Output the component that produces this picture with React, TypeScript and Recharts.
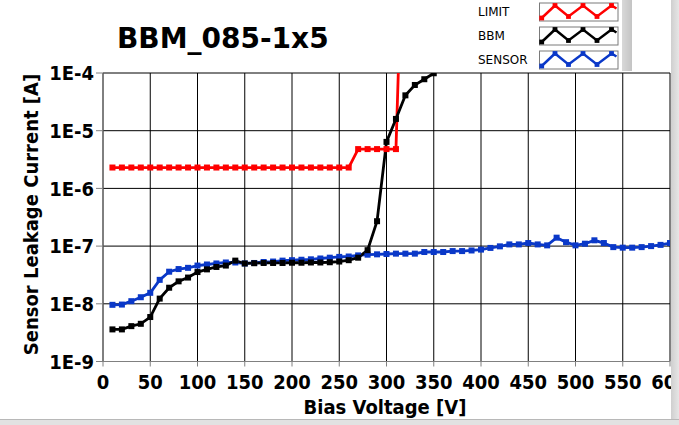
import { LineChart, Line, XAxis, YAxis, CartesianGrid } from 'recharts'

// bias voltage steps [V]
const voltages = [
  10, 20, 30, 40, 50, 60, 70, 80, 90, 100, 110, 120, 130, 140, 150, 160, 170, 180, 190, 200,
  210, 220, 230, 240, 250, 260, 270, 280, 290, 300, 310, 320, 330, 340, 350, 360, 370, 380, 390, 400,
  410, 420, 430, 440, 450, 460, 470, 480, 490, 500, 510, 520, 530, 540, 550, 560, 570, 580, 590, 600,
]

// leakage current [A]
const limitCurrent = [
  2.3e-6, 2.3e-6, 2.3e-6, 2.3e-6, 2.3e-6, 2.3e-6, 2.3e-6, 2.3e-6, 2.3e-6, 2.3e-6,
  2.3e-6, 2.3e-6, 2.3e-6, 2.3e-6, 2.3e-6, 2.3e-6, 2.3e-6, 2.3e-6, 2.3e-6, 2.3e-6,
  2.3e-6, 2.3e-6, 2.3e-6, 2.3e-6, 2.3e-6, 2.3e-6, 4.8e-6, 4.8e-6, 4.8e-6, 4.8e-6,
  4.8e-6, 1,
]

const bbmCurrent = [
  3.6e-9, 3.6e-9, 4.1e-9, 4.5e-9, 5.9e-9, 1.23e-8, 1.9e-8, 2.45e-8, 2.85e-8, 3.55e-8,
  3.95e-8, 4.35e-8, 4.6e-8, 5.6e-8, 5.0e-8, 5.05e-8, 5.1e-8, 5.1e-8, 5.1e-8, 5.15e-8,
  5.15e-8, 5.2e-8, 5.2e-8, 5.25e-8, 5.4e-8, 5.7e-8, 6.3e-8, 8.5e-8, 2.7e-7, 6.4e-6,
  1.6e-5, 4.1e-5, 6.2e-5, 7.8e-5, 9.9e-5,
]

const sensorCurrent = [
  9.6e-9, 9.7e-9, 1.11e-8, 1.3e-8, 1.55e-8, 2.6e-8, 3.6e-8, 4.0e-8, 4.2e-8, 4.6e-8,
  4.8e-8, 5.0e-8, 5.2e-8, 5.2e-8, 5.0e-8, 5.1e-8, 5.3e-8, 5.4e-8, 5.6e-8, 5.7e-8,
  5.8e-8, 5.9e-8, 6.1e-8, 6.3e-8, 6.5e-8, 6.6e-8, 6.9e-8, 7.1e-8, 7.2e-8, 7.3e-8,
  7.4e-8, 7.4e-8, 7.4e-8, 7.9e-8, 7.9e-8, 7.9e-8, 8.2e-8, 8.2e-8, 8.4e-8, 8.7e-8,
  9.3e-8, 9.9e-8, 1.07e-7, 1.07e-7, 1.13e-7, 1.07e-7, 1.03e-7, 1.4e-7, 1.17e-7, 1.03e-7,
  1.1e-7, 1.26e-7, 1.13e-7, 9.6e-8, 9.4e-8, 9.4e-8, 9.6e-8, 1.0e-7, 1.05e-7, 1.13e-7,
]

const xTicks = [0, 50, 100, 150, 200, 250, 300, 350, 400, 450, 500, 550, 600]
const yTicks = [1e-9, 1e-8, 1e-7, 1e-6, 1e-5, 1e-4]

const seriesNames = ['LIMIT', 'BBM', 'SENSOR']
const seriesColors = ['#ff0000', '#000000', '#0a38c8']

const toPoints = (values: number[]) => values.map((i, k) => ({ v: voltages[k], i }))

const W = 679
const H = 425
const condensed = '"DejaVu Sans Condensed", "DejaVu Sans", sans-serif'

const squareDot = (color: string) => (props: any) => {
  const { cx, cy, index } = props
  if (cx == null || cy == null) return <g key={index} />
  return <rect key={index} x={cx - 3} y={cy - 3} width={6} height={6} fill={color} />
}

const yFormat = (v: number) => `1E${Math.round(Math.log10(v))}`

function LegendSwatch({ y, color }: { y: number; color: string }) {
  const x0 = 539
  const pts = [
    [2.7, 15.5], [16, 3], [29.5, 14], [44, 3], [58, 14], [72.5, 3], [77.5, 6],
  ].map(([dx, dy]) => [x0 + dx, y + dy])
  return (
    <g>
      <rect x={x0 + 0.5} y={y + 0.5} width={78.5} height={18} fill="#fff" stroke="#7a7a7a" />
      <polyline points={pts.map((p) => p.join(',')).join(' ')} fill="none" stroke={color} strokeWidth={2.5} />
      {pts.slice(0, 6).map((p, k) => (
        <rect key={k} x={p[0] - 2.4} y={p[1] - 2.4} width={4.8} height={4.8} fill={color} />
      ))}
    </g>
  )
}

export default function App() {
  const series = [limitCurrent, bbmCurrent, sensorCurrent]
  const drawOrder = [2, 0, 1]
  return (
    <div style={{ position: 'absolute', left: 0, top: 0, width: W, height: H, background: '#fff', overflow: 'hidden' }}>
      <LineChart width={W} height={H} margin={{ top: 73, right: 9, bottom: 0, left: 0 }}>
        <CartesianGrid stroke="#000" strokeWidth={1} />
        <XAxis
          type="number"
          dataKey="v"
          domain={[0, 600]}
          ticks={xTicks}
          interval={0}
          allowDataOverflow
          height={63.5}
          tickSize={5}
          tickMargin={8}
          stroke="#808080"
          tick={{ fill: '#000', fontSize: 20, fontWeight: 'bold', fontFamily: condensed }}
        />
        <YAxis
          type="number"
          dataKey="i"
          scale="log"
          domain={[1e-9, 1e-4]}
          ticks={yTicks}
          interval={0}
          allowDataOverflow
          width={103}
          tickSize={7}
          tickMargin={2}
          stroke="#808080"
          tickFormatter={yFormat}
          tick={{ fill: '#000', fontSize: 20, fontWeight: 'bold', fontFamily: condensed }}
        />
        {drawOrder.map((s) => (
          <Line
            key={seriesNames[s]}
            name={seriesNames[s]}
            data={toPoints(series[s])}
            dataKey="i"
            type="linear"
            stroke={seriesColors[s]}
            strokeWidth={2.8}
            dot={squareDot(seriesColors[s])}
            activeDot={false}
            isAnimationActive={false}
          />
        ))}
      </LineChart>

      <svg width={W} height={H} style={{ position: 'absolute', left: 0, top: 0, pointerEvents: 'none' }}>
        <text x={117} y={48} fontFamily='"DejaVu Sans", sans-serif' fontWeight="bold" fontSize={28} fill="#000">
          BBM_085-1x5
        </text>
        <text x={385} y={413.5} textAnchor="middle" fontFamily={condensed} fontWeight="bold" fontSize={20} fill="#000">
          Bias Voltage [V]
        </text>
        <text
          transform="translate(37.6,214.5) rotate(-90)"
          textAnchor="middle"
          fontFamily={condensed}
          fontWeight="bold"
          fontSize={20}
          fill="#000"
        >
          Sensor Leakage Current [A]
        </text>
        {seriesNames.map((name, k) => (
          <g key={name}>
            <text x={478} y={15.7 + k * 24.2} fontFamily='"DejaVu Sans", sans-serif' fontSize={12} fill="#000">
              {name}
            </text>
            <LegendSwatch y={2.5 + k * 24} color={seriesColors[k]} />
          </g>
        ))}
      </svg>

      <div style={{ position: 'absolute', left: 622, top: 0, width: 10, height: 71, background: 'linear-gradient(to right, #d8d8d8, #c4c4c4)' }} />
      <div style={{ position: 'absolute', left: 671, top: 0, width: 8, height: H, background: 'linear-gradient(to right, #cfcfcf, #e6e6e6)' }} />
      <div style={{ position: 'absolute', left: 0, top: 419, width: W, height: 6, background: '#e2e2e2', borderTop: '1px solid #b8b8b8' }} />
    </div>
  )
}
